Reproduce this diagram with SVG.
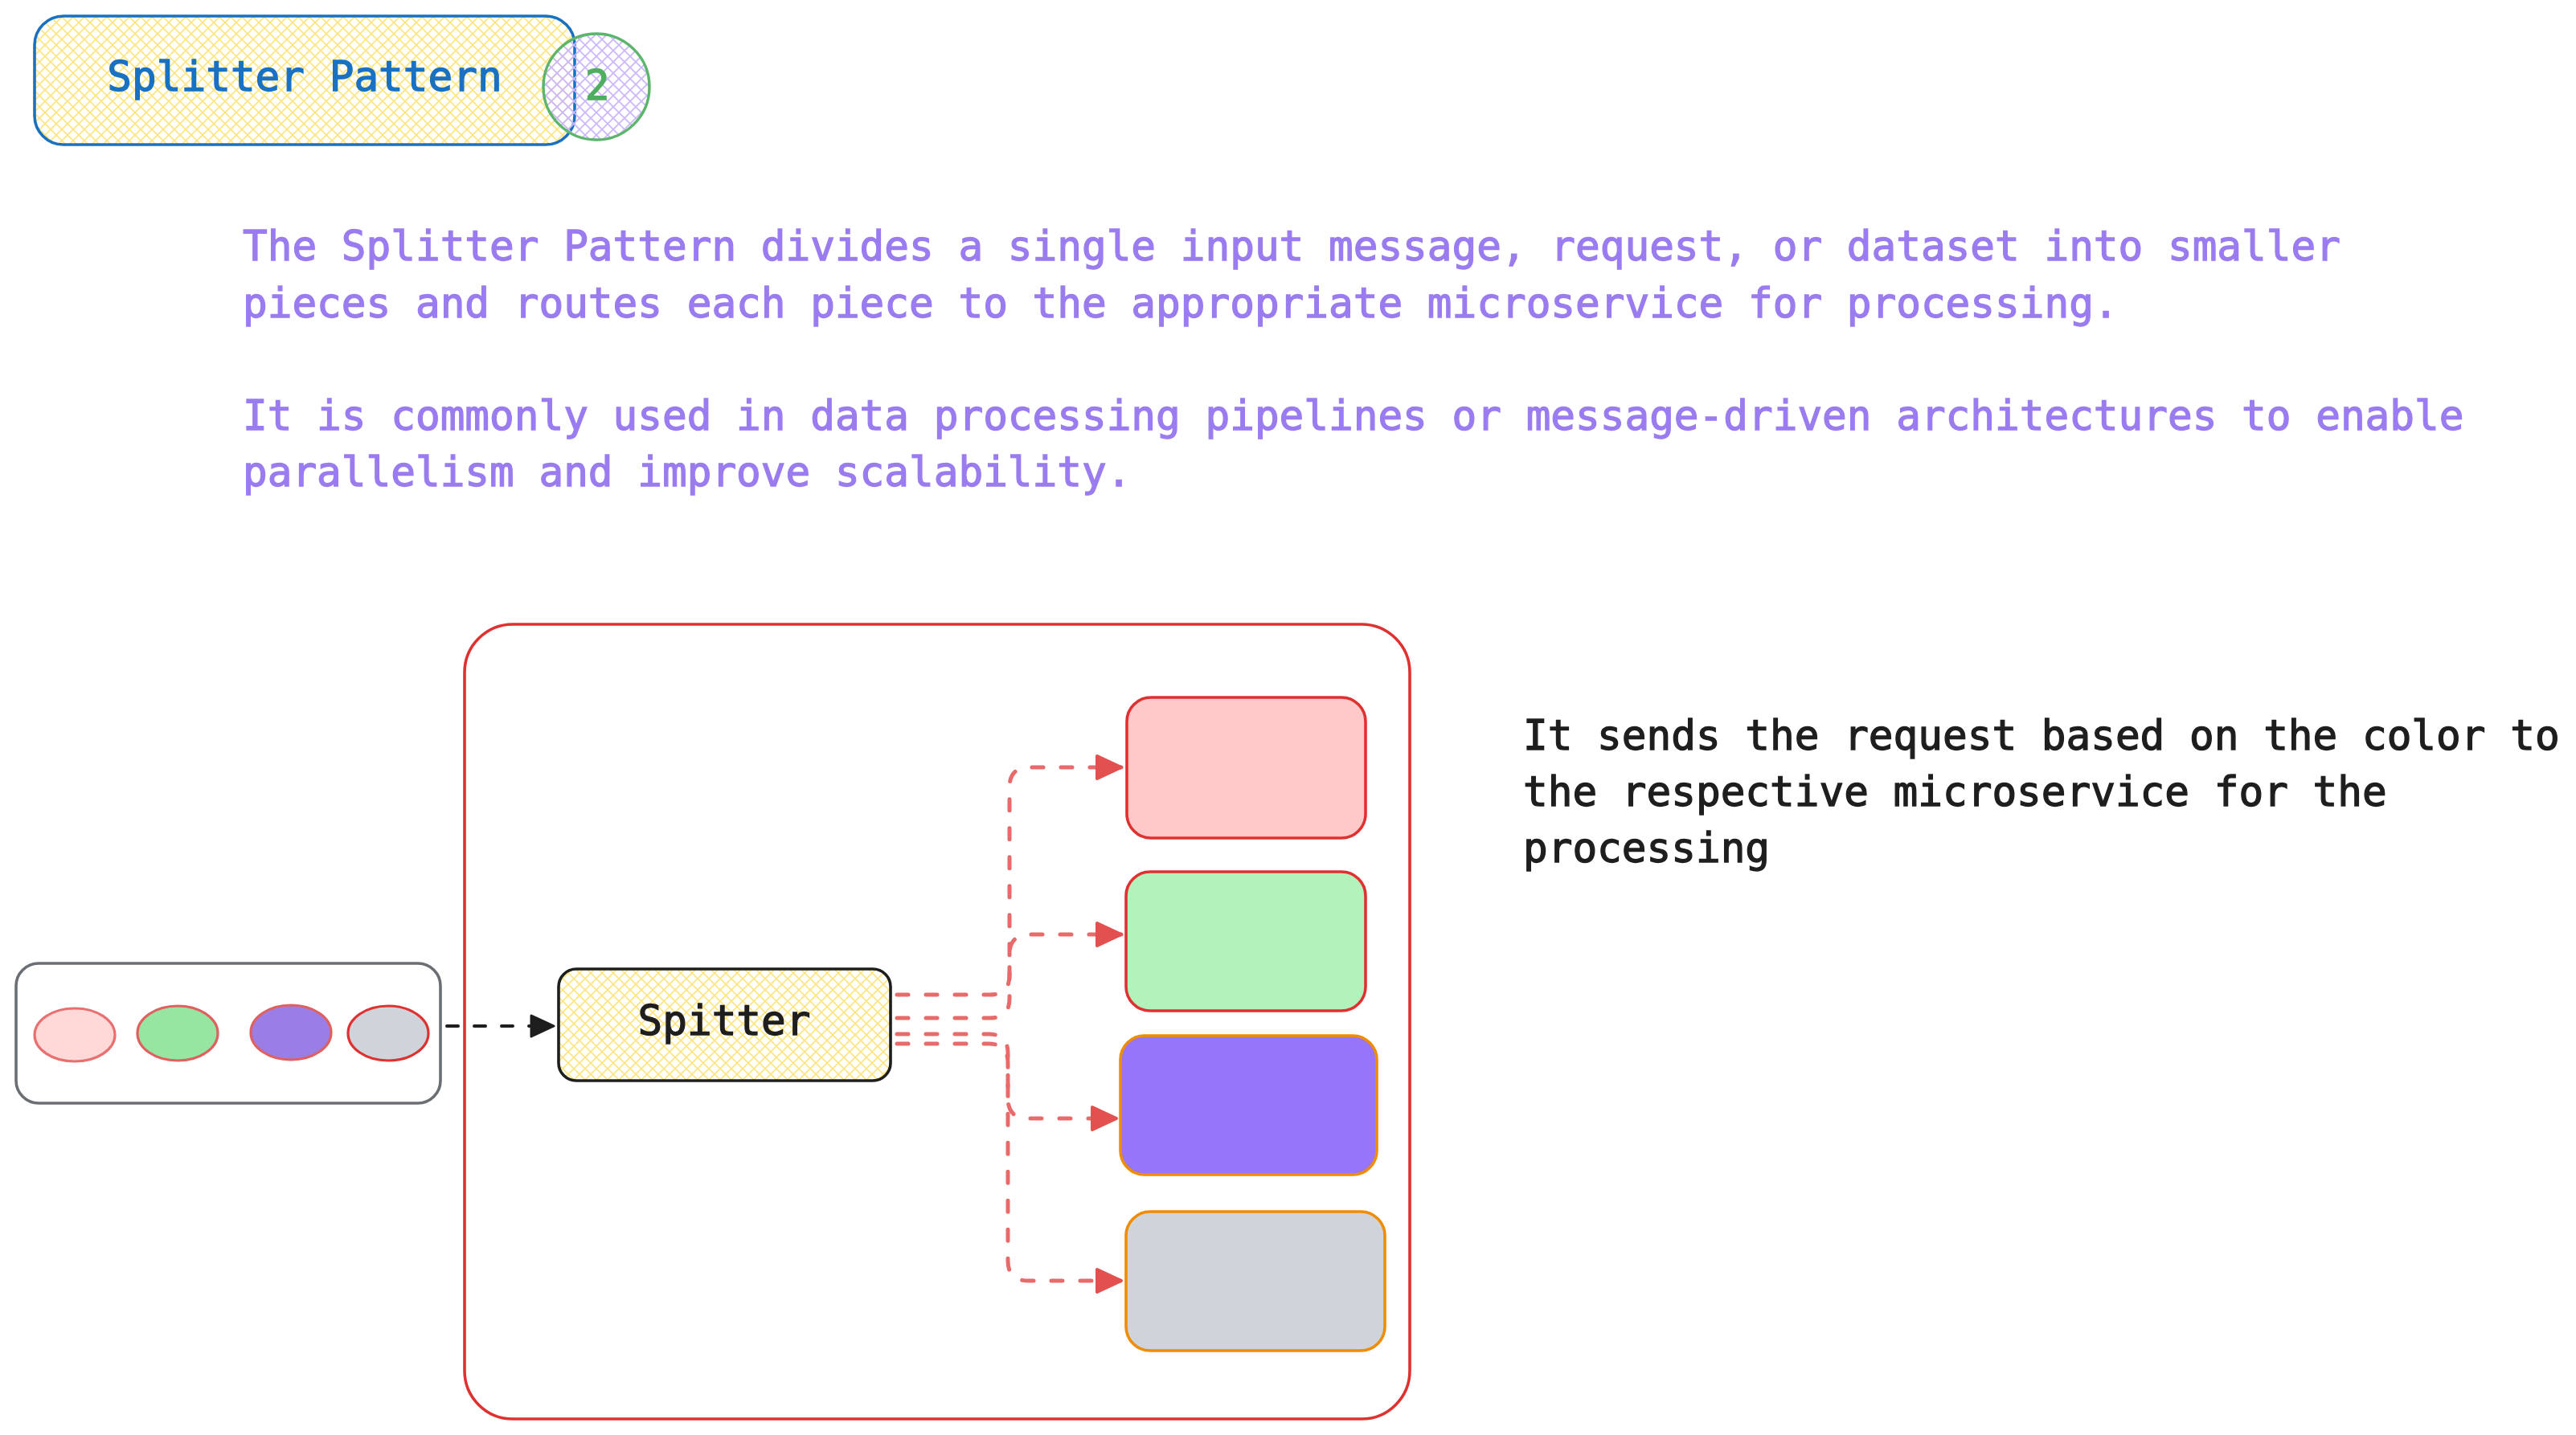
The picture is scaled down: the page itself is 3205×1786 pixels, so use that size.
<svg xmlns="http://www.w3.org/2000/svg" width="3205" height="1786" viewBox="0 0 3205 1786">
  <style>
    .t { font-family: "DejaVu Sans Mono", "Liberation Mono", monospace; font-size: 51px; stroke-width: 1.3; }
    .para { fill: #9a7cf0; stroke: #9a7cf0; }
    .dark { fill: #1e1e1e; stroke: #1e1e1e; }
    .blue { fill: #1971c2; stroke: #1971c2; }
    .green { fill: #4fae5f; stroke: #4fae5f; }
    .box { stroke-width: 3.6; stroke-linejoin: round; }
    .conn { fill: none; stroke: #e86a6a; stroke-width: 5; stroke-dasharray: 14 22; stroke-linecap: round; stroke-linejoin: round; }
    .connB { fill: none; stroke: #1e1e1e; stroke-width: 4; stroke-dasharray: 14 20; stroke-linecap: round; }
  </style>
  <defs>
    <pattern id="hatchY" patternUnits="userSpaceOnUse" width="14" height="14">
      <path d="M0,14 L14,0 M-3.5,3.5 L3.5,-3.5 M10.5,17.5 L17.5,10.5" stroke="#ffe583" stroke-width="1.8"/>
      <path d="M0,0 L14,14 M-3.5,10.5 L3.5,17.5 M10.5,-3.5 L17.5,3.5" stroke="#ffe583" stroke-width="1.8"/>
    </pattern>
    <pattern id="hatchP" patternUnits="userSpaceOnUse" width="14" height="14">
      <path d="M0,14 L14,0 M-3.5,3.5 L3.5,-3.5 M10.5,17.5 L17.5,10.5" stroke="#cbb8ff" stroke-width="1.8"/>
      <path d="M0,0 L14,14 M-3.5,10.5 L3.5,17.5 M10.5,-3.5 L17.5,3.5" stroke="#cbb8ff" stroke-width="1.8"/>
    </pattern>
    <marker id="ahR" markerUnits="userSpaceOnUse" markerWidth="40" markerHeight="40" viewBox="0 0 40 40" refX="34" refY="20" orient="auto">
      <path d="M4,6 L34,20 L4,34 Z" fill="#e35050" stroke="#e35050" stroke-width="4" stroke-linejoin="round"/>
    </marker>
    <marker id="ahB" markerUnits="userSpaceOnUse" markerWidth="40" markerHeight="40" viewBox="0 0 40 40" refX="34" refY="20" orient="auto">
      <path d="M6,7 L34,20 L6,33 Z" fill="#1e1e1e" stroke="#1e1e1e" stroke-width="3" stroke-linejoin="round"/>
    </marker>
  </defs>

  <rect x="0" y="0" width="3205" height="1786" fill="#ffffff"/>

  <!-- Title -->
  <g id="title">
    <rect x="43" y="20" width="672" height="160" rx="36" fill="url(#hatchY)" stroke="#1971c2" class="box"/>
    <text x="379" y="113" text-anchor="middle" class="t blue">Splitter Pattern</text>
  </g>
  <g id="badge">
    <circle cx="742" cy="108" r="66" fill="url(#hatchP)" stroke="#5bb56a" stroke-width="3.4"/>
    <text x="743" y="124" text-anchor="middle" class="t green">2</text>
  </g>

  <!-- Description -->
  <g id="description" class="t para">
    <text x="302" y="324">The Splitter Pattern divides a single input message, request, or dataset into smaller</text>
    <text x="302" y="395">pieces and routes each piece to the appropriate microservice for processing.</text>
    <text x="302" y="535">It is commonly used in data processing pipelines or message-driven architectures to enable</text>
    <text x="302" y="605">parallelism and improve scalability.</text>
  </g>

  <g id="note" class="t dark">
    <text x="1895" y="933">It sends the request based on the color to</text>
    <text x="1895" y="1003">the respective microservice for the</text>
    <text x="1895" y="1073">processing</text>
  </g>

  <!-- Container -->
  <g id="system">
    <rect x="578" y="777" width="1176" height="989" rx="60" fill="none" stroke="#e03131" class="box"/>
  </g>

  <!-- Input queue -->
  <g id="requests">
    <rect x="20" y="1199" width="528" height="174" rx="28" fill="#ffffff" stroke="#6b6f73" class="box"/>
    <ellipse cx="93" cy="1288" rx="50" ry="33" fill="#ffd8d8" stroke="#e87070" stroke-width="3.2"/>
    <ellipse cx="221" cy="1286" rx="50" ry="34" fill="#96e6a1" stroke="#e06060" stroke-width="3.2"/>
    <ellipse cx="362" cy="1285" rx="50" ry="34" fill="#9a7ee6" stroke="#e06060" stroke-width="3.2"/>
    <ellipse cx="483" cy="1286" rx="50" ry="34" fill="#ced4da" stroke="#e03131" stroke-width="3.2"/>
  </g>

  <g id="splitter">
    <rect x="695" y="1206" width="413" height="139" rx="22" fill="url(#hatchY)" stroke="#1e1e1e" class="box"/>
    <text x="901" y="1288" text-anchor="middle" class="t dark">Spitter</text>
  </g>

  <g id="service-red">
    <rect x="1402" y="868" width="297" height="175" rx="30" fill="#ffc9c9" stroke="#e03131" class="box"/>
  </g>
  <g id="service-green">
    <rect x="1401" y="1085" width="298" height="173" rx="30" fill="#b2f2bb" stroke="#e03131" class="box"/>
  </g>
  <g id="service-purple">
    <rect x="1394" y="1289" width="319" height="173" rx="30" fill="#9775fa" stroke="#f08c00" class="box"/>
  </g>
  <g id="service-gray">
    <rect x="1401" y="1508" width="322" height="173" rx="30" fill="#ced4da" stroke="#f08c00" class="box"/>
  </g>

  <!-- Connectors -->
  <g id="connectors">
    <path class="connB" d="M556,1277 L689,1277" marker-end="url(#ahB)"/>
    <path class="conn" d="M1116,1238 H1232 Q1256,1238 1256,1214 V980 Q1256,955 1281,955 H1395" marker-end="url(#ahR)"/>
    <path class="conn" d="M1116,1267 H1232 Q1256,1267 1256,1243 V1188 Q1256,1163 1281,1163 H1395" marker-end="url(#ahR)"/>
    <path class="conn" d="M1116,1287 H1230 Q1254,1287 1254,1311 V1367 Q1254,1392 1279,1392 H1389" marker-end="url(#ahR)"/>
    <path class="conn" d="M1116,1299 H1230 Q1254,1299 1254,1323 V1569 Q1254,1594 1279,1594 H1395" marker-end="url(#ahR)"/>
  </g>
</svg>
